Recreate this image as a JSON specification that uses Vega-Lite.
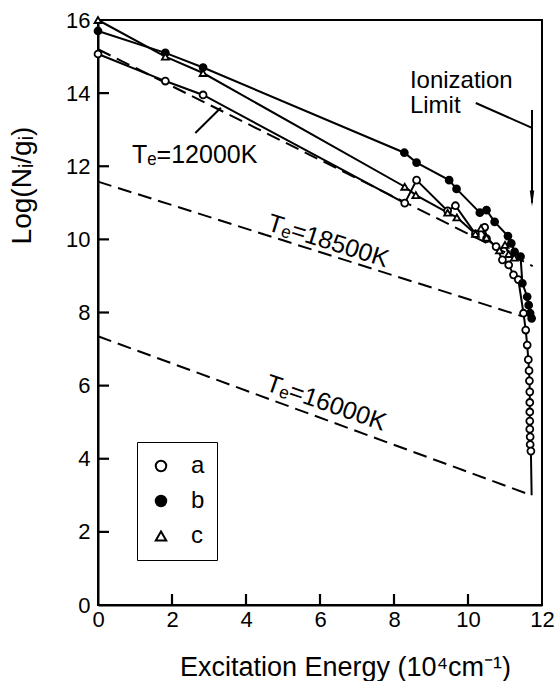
{
  "$schema": "https://vega.github.io/schema/vega-lite/v6.json",
  "width": 444,
  "height": 585,
  "autosize": {"type": "none"},
  "padding": {"left": 98, "top": 20, "right": 16, "bottom": 76},
  "background": "white",
  "config": {
    "font": "Liberation Sans",
    "view": {"stroke": "black", "strokeWidth": 2},
    "axis": {
      "domainColor": "black", "domainWidth": 2,
      "ticks": false, "grid": false,
      "labelColor": "black", "titleColor": "black",
      "labelFontSize": 22, "titleFontSize": 27, "titleFontWeight": "normal",
      "labelFlush": false, "labelOverlap": false,
      "labelFont": "Liberation Sans", "titleFont": "Liberation Sans"
    },
    "text": {"font": "Liberation Sans", "color": "black"}
  },
  "datasets": {
    "series": [
      {"s": "a", "x": 0, "y": 15.07, "pt": true},
      {"s": "a", "x": 1.82, "y": 14.33, "pt": true},
      {"s": "a", "x": 2.84, "y": 13.95, "pt": true},
      {"s": "a", "x": 8.29, "y": 10.99, "pt": true},
      {"s": "a", "x": 8.61, "y": 11.62, "pt": true},
      {"s": "a", "x": 9.45, "y": 10.78, "pt": true},
      {"s": "a", "x": 9.66, "y": 10.92, "pt": true},
      {"s": "a", "x": 10.2, "y": 10.15, "pt": true},
      {"s": "a", "x": 10.45, "y": 10.33, "pt": true},
      {"s": "a", "x": 10.5, "y": 10.02, "pt": true},
      {"s": "a", "x": 10.76, "y": 9.8, "pt": true},
      {"s": "a", "x": 10.93, "y": 9.44, "pt": true},
      {"s": "a", "x": 11.1, "y": 9.3, "pt": true},
      {"s": "a", "x": 11.23, "y": 9.03, "pt": true},
      {"s": "a", "x": 11.36, "y": 8.9, "pt": true},
      {"s": "a", "x": 11.5, "y": 7.98, "pt": true},
      {"s": "a", "x": 11.56, "y": 7.52, "pt": true},
      {"s": "a", "x": 11.6, "y": 7.11, "pt": true},
      {"s": "a", "x": 11.63, "y": 6.71, "pt": true},
      {"s": "a", "x": 11.65, "y": 6.41, "pt": true},
      {"s": "a", "x": 11.66, "y": 6.13, "pt": true},
      {"s": "a", "x": 11.67, "y": 5.83, "pt": true},
      {"s": "a", "x": 11.67, "y": 5.54, "pt": true},
      {"s": "a", "x": 11.67, "y": 5.28, "pt": true},
      {"s": "a", "x": 11.67, "y": 5.03, "pt": true},
      {"s": "a", "x": 11.67, "y": 4.81, "pt": true},
      {"s": "a", "x": 11.68, "y": 4.6, "pt": true},
      {"s": "a", "x": 11.68, "y": 4.39, "pt": true},
      {"s": "a", "x": 11.7, "y": 4.21, "pt": true},
      {"s": "a", "x": 11.72, "y": 3.0, "pt": false},
      {"s": "b", "x": 0, "y": 15.7, "pt": true},
      {"s": "b", "x": 1.82, "y": 15.1, "pt": true},
      {"s": "b", "x": 2.84, "y": 14.7, "pt": true},
      {"s": "b", "x": 8.28, "y": 12.37, "pt": true},
      {"s": "b", "x": 8.61, "y": 12.1, "pt": true},
      {"s": "b", "x": 9.49, "y": 11.62, "pt": true},
      {"s": "b", "x": 9.69, "y": 11.38, "pt": true},
      {"s": "b", "x": 10.32, "y": 10.73, "pt": true},
      {"s": "b", "x": 10.5, "y": 10.8, "pt": true},
      {"s": "b", "x": 10.72, "y": 10.48, "pt": true},
      {"s": "b", "x": 11.08, "y": 10.09, "pt": true},
      {"s": "b", "x": 11.17, "y": 9.89, "pt": true},
      {"s": "b", "x": 11.26, "y": 9.66, "pt": true},
      {"s": "b", "x": 11.42, "y": 9.53, "pt": true},
      {"s": "b", "x": 11.47, "y": 8.8, "pt": true},
      {"s": "b", "x": 11.6, "y": 8.43, "pt": true},
      {"s": "b", "x": 11.64, "y": 8.2, "pt": true},
      {"s": "b", "x": 11.68, "y": 7.98, "pt": true},
      {"s": "b", "x": 11.72, "y": 7.84, "pt": true},
      {"s": "c", "x": 0, "y": 16.0, "pt": true},
      {"s": "c", "x": 1.82, "y": 15.0, "pt": true},
      {"s": "c", "x": 2.84, "y": 14.55, "pt": true},
      {"s": "c", "x": 8.29, "y": 11.44, "pt": true},
      {"s": "c", "x": 8.59, "y": 11.21, "pt": true},
      {"s": "c", "x": 9.45, "y": 10.73, "pt": true},
      {"s": "c", "x": 9.7, "y": 10.6, "pt": true},
      {"s": "c", "x": 10.2, "y": 10.15, "pt": true},
      {"s": "c", "x": 10.35, "y": 10.3, "pt": true},
      {"s": "c", "x": 10.5, "y": 10.05, "pt": true},
      {"s": "c", "x": 10.85, "y": 9.7, "pt": true},
      {"s": "c", "x": 11.0, "y": 9.85, "pt": true},
      {"s": "c", "x": 11.1, "y": 9.6, "pt": true},
      {"s": "c", "x": 11.25, "y": 9.5, "pt": true}
    ],
    "te": [
      {"t": "12000", "x": 0, "y": 15.2},
      {"t": "12000", "x": 11.75, "y": 9.27},
      {"t": "18500", "x": 0, "y": 11.58},
      {"t": "18500", "x": 11.45, "y": 7.9},
      {"t": "16000", "x": 0, "y": 7.35},
      {"t": "16000", "x": 11.72, "y": 3.0}
    ],
    "rules": [
      {"x": 2.63, "y": 12.91, "x2": 3.32, "y2": 13.6},
      {"x": 10.21, "y": 13.73, "x2": 11.73, "y2": 13.05},
      {"x": 11.73, "y": 13.54, "x2": 11.73, "y2": 11.0}
    ],
    "xticks": [
      {"x": 2, "y": 0}, {"x": 4, "y": 0}, {"x": 6, "y": 0}, {"x": 8, "y": 0}, {"x": 10, "y": 0}
    ],
    "yticks": [
      {"x": 0, "y": 2}, {"x": 0, "y": 4}, {"x": 0, "y": 6}, {"x": 0, "y": 8},
      {"x": 0, "y": 10}, {"x": 0, "y": 12}, {"x": 0, "y": 14}
    ],
    "arrow": [{"x": 11.73, "y": 11.12}],
    "lab0": [{"x": 0.92, "y": 12.09, "label": "Tₑ=12000K"}],
    "labIon": [{"x": 8.43, "y": 14.14, "label": "Ionization\nLimit"}],
    "lab185": [{"x": 4.54, "y": 10.26, "label": "Tₑ=18500K"}],
    "lab160": [{"x": 4.49, "y": 5.88, "label": "Tₑ=16000K"}]
  },
  "encoding": {
    "x": {
      "field": "x", "type": "quantitative",
      "scale": {"domain": [0, 12], "nice": false},
      "axis": {
        "values": [0, 2, 4, 6, 8, 10, 12],
        "title": "Excitation Energy (10⁴cm⁻¹)",
        "titleX": 247, "titleY": 70, "titleBaseline": "alphabetic",
        "labelPadding": 4
      }
    },
    "y": {
      "field": "y", "type": "quantitative",
      "scale": {"domain": [0, 16], "nice": false},
      "axis": {
        "values": [0, 2, 4, 6, 8, 10, 12, 14, 16],
        "title": "Log(Nᵢ/gᵢ)",
        "titleFontSize": 28,
        "labelPadding": 8,
        "titleX": -76, "titleY": 165, "titleBaseline": "middle", "titleAlign": "center", "titleAngle": -90
      }
    }
  },
  "layer": [
    {
      "data": {"name": "xticks"},
      "mark": {"type": "tick", "orient": "vertical", "color": "black", "thickness": 2.2, "size": 11, "yOffset": -5.5, "opacity": 1},
      "encoding": {}
    },
    {
      "data": {"name": "yticks"},
      "mark": {"type": "tick", "orient": "horizontal", "color": "black", "thickness": 2.2, "size": 11, "xOffset": 5.5, "opacity": 1},
      "encoding": {}
    },
    {
      "data": {"name": "te"},
      "mark": {"type": "line", "color": "black", "strokeWidth": 2, "strokeDash": [14, 7]},
      "encoding": {"detail": {"field": "t"}}
    },
    {
      "data": {"name": "series"},
      "mark": {"type": "line", "color": "black", "strokeWidth": 2},
      "encoding": {"detail": {"field": "s"}}
    },
    {
      "data": {"name": "series"},
      "transform": [{"filter": "datum.pt"}],
      "mark": {"type": "point", "filled": true, "strokeWidth": 1.8, "size": 48, "opacity": 1},
      "encoding": {
        "shape": {
          "field": "s", "type": "nominal",
          "scale": {"domain": ["a", "b", "c"], "range": ["circle", "circle", "triangle-up"]},
          "legend": {"title": null, "orient": "none", "legendX": 39, "legendY": 422, "strokeColor": "black", "padding": 12, "labelFontSize": 24, "labelOffset": 18, "rowPadding": 11, "symbolSize": 110, "symbolStrokeWidth": 2, "labelFont": "Liberation Sans", "labelColor": "black"}
        },
        "fill": {
          "field": "s", "type": "nominal",
          "scale": {"domain": ["a", "b", "c"], "range": ["white", "black", "white"]},
          "legend": {"title": null, "orient": "none", "legendX": 39, "legendY": 422, "strokeColor": "black", "padding": 12, "labelFontSize": 24, "labelOffset": 18, "rowPadding": 11, "symbolSize": 110, "symbolStrokeWidth": 2, "labelFont": "Liberation Sans", "labelColor": "black"}
        },
        "stroke": {
          "field": "s", "type": "nominal",
          "scale": {"domain": ["a", "b", "c"], "range": ["black", "black", "black"]},
          "legend": {"title": null, "orient": "none", "legendX": 39, "legendY": 422, "strokeColor": "black", "padding": 12, "labelFontSize": 24, "labelOffset": 18, "rowPadding": 11, "symbolSize": 110, "symbolStrokeWidth": 2, "labelFont": "Liberation Sans", "labelColor": "black"}
        }
      }
    },
    {
      "data": {"name": "rules"},
      "mark": {"type": "rule", "color": "black", "strokeWidth": 2},
      "encoding": {"x2": {"field": "x2"}, "y2": {"field": "y2"}}
    },
    {
      "data": {"name": "arrow"},
      "mark": {"type": "point", "filled": true, "color": "black", "opacity": 1, "shape": "M-0.28,-1L0.28,-1L0,1Z", "size": 256},
      "encoding": {}
    },
    {
      "data": {"name": "lab0"},
      "mark": {"type": "text", "align": "left", "baseline": "alphabetic", "fontSize": 25},
      "encoding": {"text": {"field": "label"}}
    },
    {
      "data": {"name": "labIon"},
      "mark": {"type": "text", "align": "left", "baseline": "alphabetic", "fontSize": 24, "lineBreak": "\n", "lineHeight": 25},
      "encoding": {"text": {"field": "label"}}
    },
    {
      "data": {"name": "lab185"},
      "mark": {"type": "text", "align": "left", "baseline": "alphabetic", "fontSize": 25, "angle": 17.5},
      "encoding": {"text": {"field": "label"}}
    },
    {
      "data": {"name": "lab160"},
      "mark": {"type": "text", "align": "left", "baseline": "alphabetic", "fontSize": 25, "angle": 19},
      "encoding": {"text": {"field": "label"}}
    }
  ]
}
